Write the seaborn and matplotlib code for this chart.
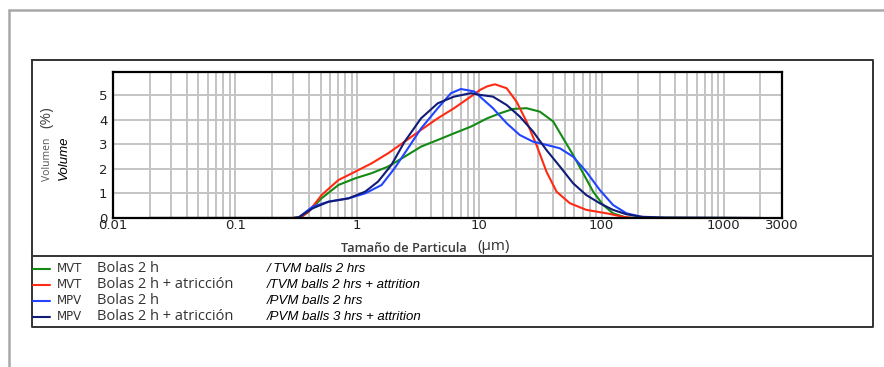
import numpy as np
import pandas as pd
import matplotlib
matplotlib.use('Agg')
import matplotlib.pyplot as plt
from matplotlib.lines import Line2D
from matplotlib.ticker import FixedLocator, LogLocator, NullFormatter
import seaborn as sns

sns.set_style('white')
plt.rcParams['font.family'] = ['DejaVu Sans']

# particle size (um) and volume (%)
mvt_x = [0.02, 0.3, 0.35, 0.40, 0.51, 0.70, 0.96, 1.31, 1.79, 2.44, 3.33, 4.56, 6.2,
         8.5, 11.6, 14.7, 18.9, 24.3, 31.2, 40.2, 48.4, 58.5, 70.6, 85.3, 103, 124,
         160, 2000]
mvt_y = [0, 0, 0.05, 0.26, 0.8, 1.34, 1.61, 1.82, 2.09, 2.49, 2.9, 3.17, 3.44,
         3.71, 4.05, 4.25, 4.43, 4.46, 4.32, 3.92, 3.24, 2.56, 1.82, 1.07, 0.53, 0.19,
         0.01, 0]

mvt_at_x = [0.02, 0.3, 0.35, 0.40, 0.51, 0.70, 0.96, 1.31, 1.79, 2.44, 3.33, 4.56, 6.2,
            8.5, 10.1, 11.6, 13.4, 16.7, 20.1, 24.3, 29.3, 35.4, 42.8, 55.0, 75.0, 110,
            150, 180, 2000]
mvt_at_y = [0, 0, 0.05, 0.26, 0.93, 1.54, 1.88, 2.22, 2.63, 3.10, 3.58, 4.05, 4.46,
            4.93, 5.2, 5.35, 5.43, 5.27, 4.73, 3.92, 2.97, 1.88, 1.07, 0.6, 0.33, 0.19,
            0.05, 0, 0]

mpv_x = [0.02, 0.3, 0.33, 0.43, 0.58, 0.85, 1.16, 1.58, 2.02, 2.6, 3.33, 4.56, 5.85,
         7.05, 9.06, 10.1, 12.9, 16.7, 21.4, 27.5, 35.4, 45.6, 58.5, 75.0, 96.6, 124,
         160, 212, 245, 2000]
mpv_y = [0, 0, 0.02, 0.46, 0.66, 0.8, 1.0, 1.34, 2.02, 2.83, 3.64, 4.46, 5.07,
         5.24, 5.14, 4.93, 4.46, 3.85, 3.37, 3.10, 2.97, 2.83, 2.49, 1.88, 1.14, 0.53,
         0.19, 0.05, 0, 0]

mpv_at_x = [0.02, 0.3, 0.33, 0.43, 0.58, 0.85, 1.16, 1.48, 1.9, 2.44, 3.33, 4.56, 6.2,
            8.5, 10.1, 12.9, 16.7, 21.4, 27.5, 35.4, 45.6, 58.5, 75.0, 96.6, 124, 160,
            212, 330, 2000]
mpv_at_y = [0, 0, 0.02, 0.39, 0.66, 0.8, 1.07, 1.48, 2.15, 3.10, 4.05, 4.66, 4.93,
            5.07, 5.0, 4.93, 4.59, 4.12, 3.51, 2.76, 2.09, 1.41, 0.93, 0.6, 0.33, 0.15,
            0.05, 0.02, 0]

series = ['MVT Bolas 2 h', 'MVT Bolas 2 h + atricción',
          'MPV Bolas 2 h', 'MPV Bolas 2 h + atricción']
codes = ['MVT', 'MVT', 'MPV', 'MPV']
labels_es = ['Bolas 2 h', 'Bolas 2 h + atricción', 'Bolas 2 h', 'Bolas 2 h + atricción']
labels_en = ['/ TVM balls 2 hrs', '/TVM balls 2 hrs + attrition',
             '/PVM balls 2 hrs', '/PVM balls 3 hrs + attrition']
colors = ['#138a13', '#ff2a14', '#2244ff', '#101c78']

x_ticks = [0.01, 0.1, 1, 10, 100, 1000, 3000]
x_ticklabels = ['0.01', '0.1', '1', '10', '100', '1000', '3000']
y_ticks = [0, 1, 2, 3, 4, 5]

frames = []
for name, xs, ys in zip(series, [mvt_x, mvt_at_x, mpv_x, mpv_at_x],
                        [mvt_y, mvt_at_y, mpv_y, mpv_at_y]):
    frames.append(pd.DataFrame({'size': xs, 'vol': ys, 'serie': name}))
df = pd.concat(frames, ignore_index=True)

W, H = 884, 367
fig = plt.figure(figsize=(W / 100, H / 100), dpi=100)

def fx(px):
    return px / W

def fy(py):
    return 1 - py / H

ax = fig.add_axes([fx(113), fy(218), fx(782 - 113), (218 - 72) / H])
sns.lineplot(data=df, x='size', y='vol', hue='serie', palette=dict(zip(series, colors)),
             estimator=None, sort=False, linewidth=1.5, legend=False, ax=ax)
ax.set_xscale('log')
ax.set_xlim(0.01, 3000)
ax.set_ylim(0, 5.93)
ax.xaxis.set_major_locator(FixedLocator(x_ticks))
ax.set_xticklabels(x_ticklabels)
ax.xaxis.set_minor_locator(LogLocator(base=10, subs=np.arange(2, 10), numticks=20))
ax.xaxis.set_minor_formatter(NullFormatter())
ax.set_yticks(y_ticks)
ax.grid(True, which='both', axis='x', color='#c4c4c4', linewidth=1.4)
ax.grid(True, which='major', axis='y', color='#c4c4c4', linewidth=1.4)
ax.set_axisbelow(True)
ax.tick_params(which='both', length=0, labelsize=9.5, colors='#222222')
ax.tick_params(axis='x', pad=1)
ax.tick_params(axis='y', pad=4)
for s in ax.spines.values():
    s.set_visible(True)
    s.set_color('black')
    s.set_linewidth(1.6)
ax.set_xlabel('')
ax.set_ylabel('')

# y label
fig.text(fx(47), fy(159), 'Volumen', rotation=90, ha='center', va='center',
         fontsize=7.5, color='#555555', family='Open Sans')
fig.text(fx(47), fy(117), '(%)', rotation=90, ha='center', va='center',
         fontsize=11, color='#444444', family='Open Sans')
fig.text(fx(64), fy(158), 'Volume', rotation=90, ha='center', va='center',
         fontsize=9.5, color='black', style='italic', family='Liberation Sans')

# x label
fig.text(fx(467), fy(248), 'Tamaño de Particula', ha='right', va='center',
         fontsize=9.2, color='#3a3a3a', family='Open Sans', weight='semibold')
fig.text(fx(477), fy(247), '(μm)', ha='left', va='center',
         fontsize=11, color='#333333', family='Open Sans')

# frames
fig.add_artist(Line2D([fx(9), fx(9)], [fy(10), 0], color='#a8a8a8', lw=1.8))
fig.add_artist(Line2D([fx(9), 1], [fy(10), fy(10)], color='#a8a8a8', lw=1.8))
box_x = [fx(32), fx(873), fx(873), fx(32), fx(32)]
box_y = [fy(60), fy(60), fy(327), fy(327), fy(60)]
fig.add_artist(Line2D(box_x, box_y, color='#333333', lw=1.4))
fig.add_artist(Line2D([fx(32), fx(873)], [fy(256), fy(256)], color='#333333', lw=1.4))

# legend
rows = [269, 285, 301, 317]
for row, col, code, es, en in zip(rows, colors, codes, labels_es, labels_en):
    fig.add_artist(Line2D([fx(33), fx(50)], [fy(row), fy(row)], color=col, lw=1.5))
    fig.text(fx(57), fy(row), code, ha='left', va='center', fontsize=8.5,
             color='#333333', family='DejaVu Sans')
    fig.text(fx(97), fy(row), es, ha='left', va='center', fontsize=10.5,
             color='#333333', family='Open Sans')
    fig.text(fx(267), fy(row), en, ha='left', va='center', fontsize=9.5,
             color='black', style='italic', family='Liberation Sans')

fig.savefig('out.png', dpi=100)
